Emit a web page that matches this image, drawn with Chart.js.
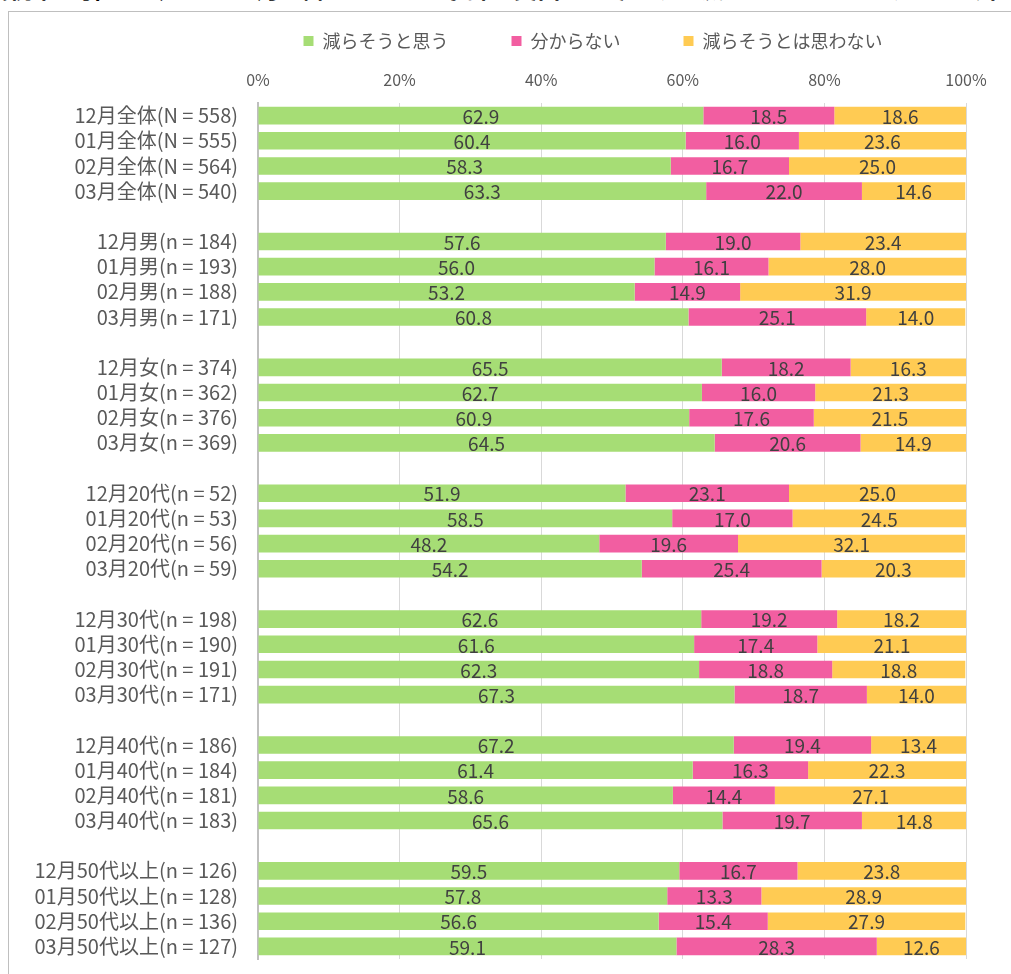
<!DOCTYPE html>
<html>
<head>
<meta charset="utf-8">
<script src="https://cdn.jsdelivr.net/npm/chart.js@4.4.1/dist/chart.umd.min.js"></script>
<style>
    html, body { margin: 0; padding: 0; background: #fff; overflow: hidden; }
    #wrap { position: relative; width: 1011px; height: 974px; }
    #title {
        position: absolute; left: -38px; top: -23px; white-space: nowrap;
        font: bold 23.4px "Noto Sans CJK JP"; color: #000; line-height: 1;
    }
    #frame {
        position: absolute; left: 8px; top: 11px; width: 1100px; height: 1100px;
        border-left: 1px solid #bfbfbf; border-top: 1px solid #bfbfbf;
    }
    #myChart { position: absolute; left: 0; top: 0; }
</style>
</head>
<body>
<div id="wrap">
    <div id="title">消費税率が引き上げられる4月以降、あなたの家計の支出を、今よりも減らそうと思いますか？（単一回答）</div>
    <div id="frame"></div>
    <canvas id="myChart" width="1011" height="974"></canvas>
</div>
<script>
const categories = [
    '12月全体(N = 558)', '01月全体(N = 555)', '02月全体(N = 564)', '03月全体(N = 540)', '',
    '12月男(n = 184)', '01月男(n = 193)', '02月男(n = 188)', '03月男(n = 171)', '',
    '12月女(n = 374)', '01月女(n = 362)', '02月女(n = 376)', '03月女(n = 369)', '',
    '12月20代(n = 52)', '01月20代(n = 53)', '02月20代(n = 56)', '03月20代(n = 59)', '',
    '12月30代(n = 198)', '01月30代(n = 190)', '02月30代(n = 191)', '03月30代(n = 171)', '',
    '12月40代(n = 186)', '01月40代(n = 184)', '02月40代(n = 181)', '03月40代(n = 183)', '',
    '12月50代以上(n = 126)', '01月50代以上(n = 128)', '02月50代以上(n = 136)', '03月50代以上(n = 127)'
];

const reduce = [
    62.9, 60.4, 58.3, 63.3, null,
    57.6, 56.0, 53.2, 60.8, null,
    65.5, 62.7, 60.9, 64.5, null,
    51.9, 58.5, 48.2, 54.2, null,
    62.6, 61.6, 62.3, 67.3, null,
    67.2, 61.4, 58.6, 65.6, null,
    59.5, 57.8, 56.6, 59.1
];
const unknown = [
    18.5, 16.0, 16.7, 22.0, null,
    19.0, 16.1, 14.9, 25.1, null,
    18.2, 16.0, 17.6, 20.6, null,
    23.1, 17.0, 19.6, 25.4, null,
    19.2, 17.4, 18.8, 18.7, null,
    19.4, 16.3, 14.4, 19.7, null,
    16.7, 13.3, 15.4, 28.3
];
const noReduce = [
    18.6, 23.6, 25.0, 14.6, null,
    23.4, 28.0, 31.9, 14.0, null,
    16.3, 21.3, 21.5, 14.9, null,
    25.0, 24.5, 32.1, 20.3, null,
    18.2, 21.1, 18.8, 14.0, null,
    13.4, 22.3, 27.1, 14.8, null,
    23.8, 28.9, 27.9, 12.6
];
const seriesNames = ['減らそうと思う', '分からない', '減らそうとは思わない'];
const xTicks = [0, 20, 40, 60, 80, 100];

const FONT = '"Noto Sans CJK JP", "Noto Sans", sans-serif';

// values written in the middle of each segment
const barValues = {
    id: 'barValues',
    afterDatasetsDraw(chart) {
        const c = chart.ctx;
        c.save();
        c.font = '19px ' + FONT;
        c.fillStyle = '#404040';
        c.textAlign = 'center';
        c.textBaseline = 'middle';
        chart.data.datasets.forEach((ds, i) => {
            chart.getDatasetMeta(i).data.forEach((bar, j) => {
                const v = ds.data[j];
                if (v == null) return;
                c.fillText(v.toFixed(1), (bar.x + bar.base) / 2, bar.y + 1);
            });
        });
        c.restore();
    }
};

// the legend sits right of the canvas centre in the original
const legendShift = {
    id: 'legendShift',
    afterLayout(chart) {
        chart.legend.left += 110;
        chart.legend.right += 110;
    }
};

const ctx = document.getElementById('myChart');

new Chart(ctx, {
    type: 'bar',
    data: {
        labels  : categories,
        datasets: [
            {label: seriesNames[0], data: reduce, backgroundColor: '#a6dd75'},
            {label: seriesNames[1], data: unknown, backgroundColor: '#f25ea1'},
            {label: seriesNames[2], data: noReduce, backgroundColor: '#ffcb53'}
        ]
    },
    options: {
        indexAxis: 'y',
        responsive: false,
        animation: false,
        barPercentage: 0.7,
        categoryPercentage: 1,
        layout: {padding: {top: -31, left: 0, right: 45, bottom: 15}},
        plugins: {
            legend: {
                position: 'top',
                labels: {
                    boxWidth: 10, boxHeight: 10, padding: 63,
                    color: '#595959', font: {family: FONT, size: 18}
                }
            },
            tooltip: {enabled: false}
        },
        scales: {
            x: {
                position: 'top',
                stacked: true,
                min: 0, max: 100,
                afterBuildTicks: s => { s.ticks = xTicks.map(v => ({value: v})); },
                afterFit: s => { s.height = 103 + 31 - s.chart.legend.height; },
                grid: {color: '#d9d9d9', drawTicks: false},
                border: {display: false},
                ticks: {
                    padding: 13, color: '#595959',
                    font: {family: FONT, size: 16},
                    callback: v => v + '%'
                }
            },
            y: {
                stacked: true,
                afterFit: s => {
                    s.width = 258;
                    s.paddingTop = 0;
                    s.paddingBottom = 0;
                },
                grid: {display: false, drawTicks: false},
                border: {color: '#bfbfbf', width: 2},
                ticks: {
                    autoSkip: false, padding: 20, color: '#595959',
                    font: {family: FONT, size: 20}
                }
            }
        }
    },
    plugins: [barValues, legendShift]
});
</script>
</body>
</html>
